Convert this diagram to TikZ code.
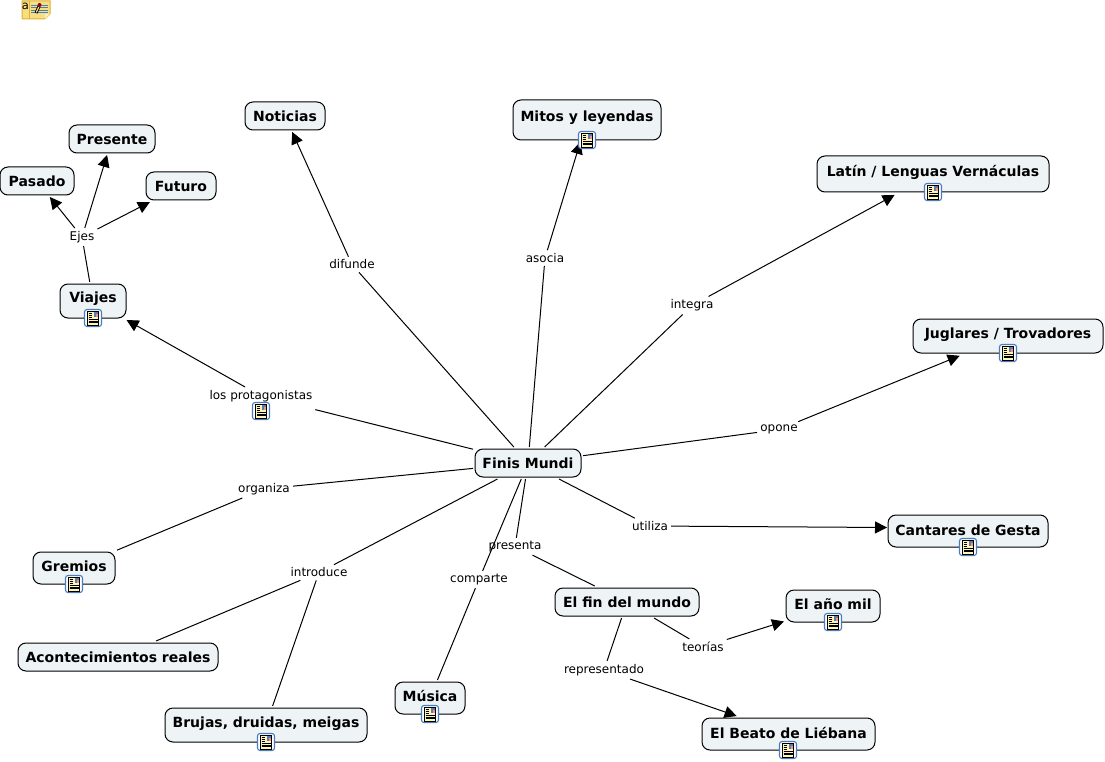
\documentclass[tikz,border=0pt]{standalone}
\usepackage{fontspec}
\setmainfont{DejaVu Sans}
\usetikzlibrary{arrows.meta}
\definecolor{boxfill}{HTML}{EEF4F6}
\definecolor{iconblue}{HTML}{4A7CC0}
\definecolor{docyellow}{HTML}{FDF6B8}
\definecolor{noteyellow}{HTML}{F8DE7E}
\definecolor{noteedge}{HTML}{E0B030}
\tikzset{
  cbox/.style n args={3}{draw=black,line width=1pt,fill=boxfill,rounded corners=8pt,
    inner xsep=0pt,inner ysep=0pt,outer sep=2pt,align=center,
    font=\fontsize{14}{16}\selectfont\bfseries,
    minimum width=#1,text height=#2,text depth=#3},
  lbl/.style={inner xsep=3pt,inner ysep=3pt,font=\fontsize{12}{14}\selectfont},
  link/.style={draw=black,line width=1pt},
  arr/.style={link,-{Triangle[length=12pt,width=12pt]}},
  resicon/.pic={
    \draw[iconblue,fill=white,line width=1.1pt,rounded corners=2.5pt] (-8.5,-8.5) rectangle (8.5,8.5);
    \fill[docyellow,draw=black,line width=.6pt] (-5.5,-7) rectangle (5.5,7);
    \fill[iconblue!70!gray] (0.5,-6) rectangle (5,-1);
    \fill[red!45!white] (2.5,-4) rectangle (5,-1);
    \foreach \yy in {-5,-3,-1} \draw[black,line width=.7pt] (-4.5,\yy) -- (-1,\yy);
    \foreach \yy in {1.2,3,4.8} \draw[black,line width=.7pt] (-4.5,\yy) -- (4.5,\yy);
  }
}
\begin{document}
\begin{tikzpicture}[x=1pt,y=-1pt]
\useasboundingbox (0,0) rectangle (1105,762);
\fill[white] (0,0) rectangle (1105,762);
% concepts
\node[cbox={106pt}{19pt}{9pt}] (finis) at (528,463) {Finis Mundi};
\node[cbox={86pt}{20pt}{8pt}] (presente) at (112,139) {Presente};
\node[cbox={74pt}{20pt}{8pt}] (pasado) at (37,181) {Pasado};
\node[cbox={70pt}{20pt}{8pt}] (futuro) at (181,186) {Futuro};
\node[cbox={80pt}{20pt}{8pt}] (noticias) at (285,116) {Noticias};
\node[cbox={148pt}{22pt}{18pt}] (mitos) at (587,120) {Mitos y leyendas};
\node[cbox={232pt}{21pt}{15pt}] (latin) at (933,174) {Latín / Lenguas Vernáculas};
\node[cbox={190pt}{19pt}{15pt}] (juglares) at (1008,336) {Juglares / Trovadores};
\node[cbox={66pt}{18pt}{16pt}] (viajes) at (93,301) {Viajes};
\node[cbox={160pt}{20pt}{12pt}] (cantares) at (968,531) {Cantares de Gesta};
\node[cbox={82pt}{19pt}{13pt}] (gremios) at (74,568) {Gremios};
\node[cbox={144pt}{19pt}{9pt}] (fin) at (627,602) {El fin del mundo};
\node[cbox={94pt}{19pt}{13pt}] (anomil) at (833,606) {El año mil};
\node[cbox={200pt}{19pt}{9pt}] (acontec) at (118,657) {Acontecimientos reales};
\node[cbox={70pt}{19pt}{13pt}] (musica) at (430,698) {Música};
\node[cbox={202pt}{19pt}{15pt}] (brujas) at (266,725) {Brujas, druidas, meigas};
\node[cbox={173pt}{20pt}{12pt}] (beato) at (788.5,734) {El Beato de Liébana};
% linking phrases
\node[lbl] (ejes) at (82,237) {Ejes};
\node[lbl] (difunde) at (352,264.5) {difunde};
\node[lbl] (asocia) at (545,258) {asocia};
\node[lbl] (integra) at (692,305.5) {integra};
\node[lbl] (opone) at (779,429.5) {opone};
\node[lbl] (protag) at (261,396) {los protagonistas};
\node[lbl] (organiza) at (264,489) {organiza};
\node[lbl] (utiliza) at (650,526) {utiliza};
\node[lbl] (presenta) at (515,546.5) {presenta};
\node[lbl] (comparte) at (479,579.5) {comparte};
\node[lbl] (introduce) at (319,572.5) {introduce};
\node[lbl] (teorias) at (703,647) {teorías};
\node[lbl] (repres) at (604,670) {representado};
\coordinate (cantaresin) at (887,527.5);
% connectors
\draw[link] (viajes) -- (ejes);
\draw[arr] (ejes) -- (pasado);
\draw[arr] (ejes) -- (presente);
\draw[arr] (ejes) -- (futuro);
\draw[link,shorten >=19pt] (finis) -- (protag);
\draw[arr] (protag) -- (viajes);
\draw[link] (finis) -- (difunde);
\draw[arr] (difunde) -- (noticias);
\draw[link] (finis) -- (asocia);
\draw[arr] (asocia) -- (mitos);
\draw[link] (finis) -- (integra);
\draw[arr,shorten >=2pt] (integra) -- (latin);
\draw[link] (finis) -- (opone);
\draw[arr,shorten >=2pt] (opone) -- (juglares);
\draw[link] (finis) -- (utiliza);
\draw[arr] (utiliza) -- (cantaresin);
\draw[link] (finis) -- (organiza);
\draw[link] (organiza) -- (gremios);
\draw[link] (finis) -- (introduce);
\draw[link] (introduce) -- (acontec);
\draw[link] (introduce) -- (brujas);
\draw[link] (finis) -- (comparte);
\draw[link] (comparte) -- (musica);
\draw[link] (finis) -- (presenta);
\draw[link] (presenta) -- (fin);
\draw[link] (fin) -- (teorias);
\draw[arr] (teorias) -- (anomil);
\draw[link] (fin) -- (repres);
\draw[arr] (repres) -- (beato);
% resource icons
\foreach \p in {(587,140),(933,192),(1008,353),(93,318),(261,411),(968,547),(74,584),(833,622),(430,714),(266,742),(788,750)}
  \pic at \p {resicon};
% note icon, top left
\draw[noteedge,fill=noteyellow,line width=1pt] (22,1) -- (50,1) -- (50,14) -- (45,19) -- (22,19) -- cycle;
\fill[noteyellow!50!white] (45,19) -- (45,14) -- (50,14) -- cycle;
\draw[noteedge,line width=.6pt] (29.5,1) -- (29.5,19);
\node[inner sep=0pt,anchor=base,font=\fontsize{11.5}{12}\selectfont] (notea) at (25.5,10) {a};
\foreach \yy in {5,7.5,10,12.5} \draw[iconblue,line width=.8pt] (31,\yy) -- (48,\yy);
\draw[black,line width=3pt] (36,13) -- (39,6.5);
\draw[noteyellow,line width=1.2pt] (36.3,12.3) -- (38.8,7);
\fill[red!60!black] (39.5,5) circle (2pt);
\end{tikzpicture}
\end{document}
